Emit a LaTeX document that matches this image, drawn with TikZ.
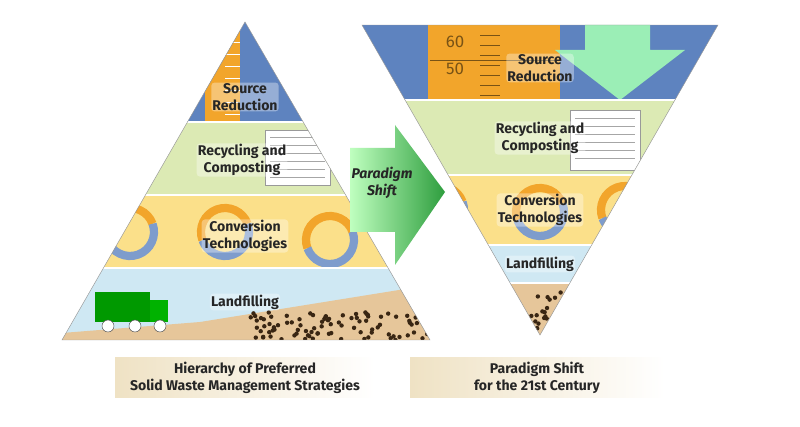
\documentclass[tikz,border=0pt]{standalone}
\usepackage{fontspec}
\setmainfont{Fira Sans}
\usetikzlibrary{positioning}
\definecolor{ruler}{HTML}{F2A52B}
\definecolor{sky}{HTML}{5E83BF}
\definecolor{leaf}{HTML}{DCEAB4}
\definecolor{conv}{HTML}{FBE08A}
\definecolor{air}{HTML}{CFE8F3}
\definecolor{sand}{HTML}{E6C69A}
\definecolor{arrowgreen}{HTML}{2E9E3E}
\definecolor{capbg}{HTML}{EFE2C4}
\tikzset{
  band/.style={font=\bfseries\large, align=center, text=black!85, inner sep=1pt, fill=white, fill opacity=0.35, text opacity=1, rounded corners=3pt},
  bandline/.style={draw=white, line width=2.5pt},
  caption/.style={font=\bfseries\large, align=center, text=black!85},
  turn/.style={line width=7pt},
}
\begin{document}
\begin{tikzpicture}[x=0.03cm,y=-0.03cm]
  \useasboundingbox (0,0) rectangle (800,427);
  \fill[white] (0,0) rectangle (800,427);

  % left pyramid
  \begin{scope}
    \clip (245,22) -- (430,340) -- (62,340) -- cycle;
    \fill[sky] (62,22) rectangle (430,122);
    \fill[ruler] (205,22) rectangle (240,122);
    \foreach \t in {30,42,...,120}{
      \draw[white, thick] (225,\t) -- (240,\t);
    }
    \fill[leaf] (62,122) rectangle (430,195);
    \fill[white, draw=black!40] (265,130) rectangle (330,185);
    \foreach \t in {137,145,...,180}{
      \draw[black!35] (270,\t) -- (325,\t);
    }
    \fill[conv] (62,195) rectangle (430,268);
    \fill[air] (62,268) rectangle (430,340);
    \fill[sand] (62,340) -- (62,333) -- (200,322) -- (430,285) -- (430,340) -- cycle;
    \pgfmathsetseed{7}
    \foreach \i in {1,...,90}{
      \pgfmathsetmacro{\dx}{250+rnd*180}
      \pgfmathsetmacro{\dy}{312+rnd*28}
      \fill[black!70!brown] (\dx,\dy) circle (2.2);
    }
    % truck
    \fill[green!60!black] (95,292) rectangle (150,322);
    \fill[green!70!black] (150,300) rectangle (168,322);
    \foreach \w in {108,135,160}{
      \fill[white, draw=black!70] (\w,326) circle (6);
    }
    % conversion arrows
    \foreach \cx/\cy in {130/232, 225/232, 330/240}{
      \draw[turn, ruler] (\cx,\cy) ++(160:24) arc (160:340:24);
      \draw[turn, sky!80] (\cx,\cy) ++(-20:24) arc (-20:160:24);
    }
    \draw[bandline] (62,122) -- (430,122);
    \draw[bandline] (62,195) -- (430,195);
    \draw[bandline] (62,268) -- (430,268);
  \end{scope}
  \draw[black!40] (245,22) -- (430,340) -- (62,340) -- cycle;

  \node[band] (srcL) at (245,97) {Source\\Reduction};
  \node[band] (recL) at (242,160) {Recycling and\\Composting};
  \node[band] (conL) at (245,236) {Conversion\\Technologies};
  \node[band] (lanL) at (245,302) {Landfilling};

  % right pyramid
  \begin{scope}
    \clip (362,25) -- (718,25) -- (540,335) -- cycle;
    \fill[sky] (362,25) rectangle (718,100);
    \fill[ruler] (428,25) rectangle (560,100);
    \fill[green!25!air] (585,25) -- (650,25) -- (650,50) -- (685,50) -- (620,100) -- (555,50) -- (585,50) -- cycle;
    \foreach \t in {35,45,...,95}{
      \draw[black!50!ruler, thick] (480,\t) -- (500,\t);
    }
    \draw[black!50!ruler, thick] (430,60) -- (560,60);
    \fill[leaf] (362,100) rectangle (718,175);
    \fill[white, draw=black!40] (570,110) rectangle (640,170);
    \foreach \t in {118,126,...,165}{
      \draw[black!35] (575,\t) -- (635,\t);
    }
    \fill[conv] (362,175) rectangle (718,245);
    \foreach \cx/\cy in {440/210, 540/212, 625/210}{
      \draw[turn, ruler] (\cx,\cy) ++(160:24) arc (160:340:24);
      \draw[turn, sky!80] (\cx,\cy) ++(-20:24) arc (-20:160:24);
    }
    \fill[air] (362,245) rectangle (718,283);
    \fill[sand] (362,283) rectangle (718,340);
    \pgfmathsetseed{3}
    \foreach \i in {1,...,40}{
      \pgfmathsetmacro{\dx}{505+rnd*70}
      \pgfmathsetmacro{\dy}{290+rnd*40}
      \fill[black!70!brown] (\dx,\dy) circle (2.2);
    }
    \draw[bandline] (362,100) -- (718,100);
    \draw[bandline] (362,175) -- (718,175);
    \draw[bandline] (362,245) -- (718,245);
    \draw[bandline] (362,283) -- (718,283);
  \end{scope}
  \draw[black!40] (362,25) -- (718,25) -- (540,335) -- cycle;

  \node[font=\Large, text=black!50!ruler] (sixty) at (455,42) {60};
  \node[font=\Large, text=black!50!ruler, below=6pt of sixty] (fifty) {50};
  \node[band] (srcR) at (540,68) {Source\\Reduction};
  \node[band] (recR) at (540,138) {Recycling and\\Composting};
  \node[band] (conR) at (540,210) {Conversion\\Technologies};
  \node[band] (lanR) at (540,264) {Landfilling};

  % shift arrow
  \shade[left color=green!25!white, right color=arrowgreen]
    (350,148) -- (395,148) -- (395,125) -- (445,192) -- (395,265) -- (395,232) -- (350,232) -- cycle;
  \node[font=\bfseries\itshape\large, align=center, text=black!85] (shift) at (382,183) {Paradigm\\Shift};

  % captions
  \shade[left color=capbg, right color=white] (115,358) rectangle (375,398);
  \node[caption] (capL) at (245,378) {Hierarchy of Preferred\\Solid Waste Management Strategies};
  \shade[left color=capbg, right color=white] (410,358) rectangle (665,398);
  \node[caption] (capR) at (537,378) {Paradigm Shift\\for the 21st Century};
\end{tikzpicture}
\end{document}
